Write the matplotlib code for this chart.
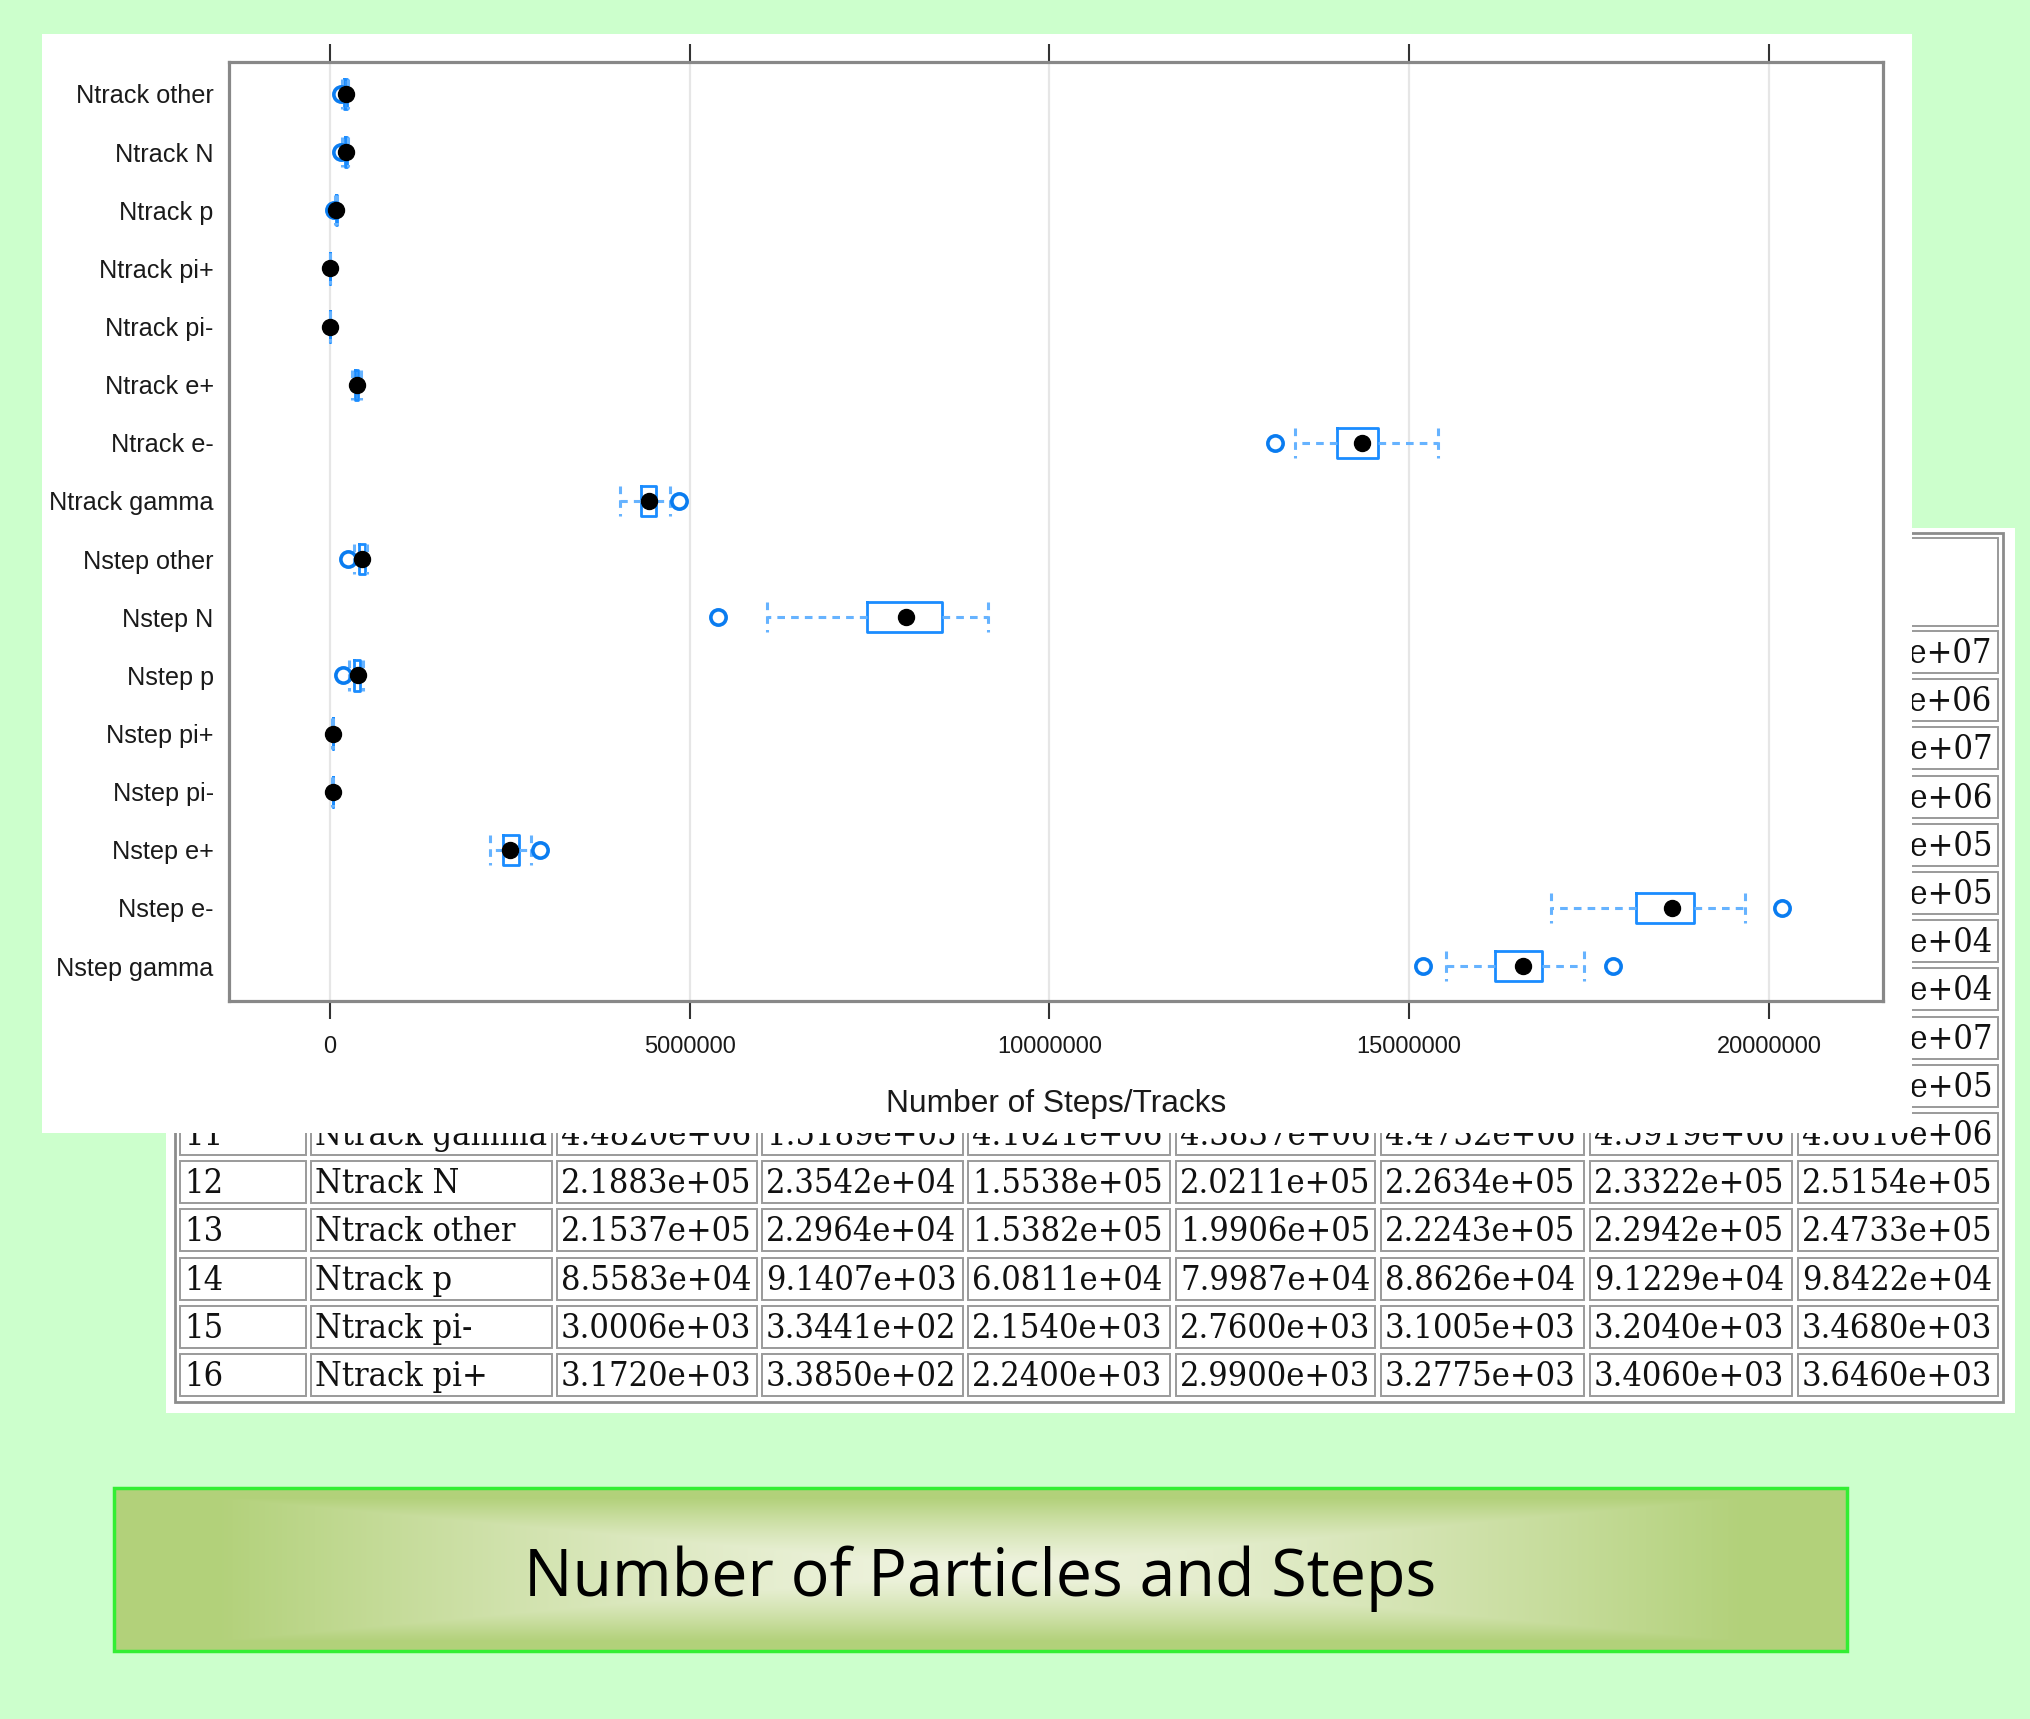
import numpy as np
import matplotlib
matplotlib.use('Agg')
from matplotlib import pyplot as plt
from matplotlib import font_manager
from matplotlib.patches import Rectangle

plt.rcParams['font.family'] = ['Liberation Sans', 'DejaVu Sans']

# box plot data, top row first
box_labels = ['Ntrack other', 'Ntrack N', 'Ntrack p', 'Ntrack pi+', 'Ntrack pi-',
              'Ntrack e+', 'Ntrack e-', 'Ntrack gamma', 'Nstep other', 'Nstep N',
              'Nstep p', 'Nstep pi+', 'Nstep pi-', 'Nstep e+', 'Nstep e-', 'Nstep gamma']
box_whislo = [1.66e5, 1.68e5, 6.5e4, 2240, 2154, 3.0e5, 13.41e6, 4.03e6,
              3.3e5, 6.07e6, 2.6e5, 2.9e4, 2.76e4, 2.22e6, 16.97e6, 15.51e6]
box_q1 = [1.9906e5, 2.0211e5, 7.9987e4, 2990, 2760, 3.5e5, 14.0e6, 4.32e6,
          4.0e5, 7.46e6, 3.3e5, 3.7e4, 3.5e4, 2.41e6, 18.15e6, 16.19e6]
box_med = [2.2243e5, 2.2634e5, 8.8626e4, 3277.5, 3100.5, 3.7e5, 14.34e6, 4.43e6,
           4.5e5, 8.01e6, 3.9e5, 4.0e4, 3.84e4, 2.50e6, 18.65e6, 16.58e6]
box_q3 = [2.2942e5, 2.3322e5, 9.1229e4, 3406, 3204, 3.9e5, 14.57e6, 4.53e6,
          4.8e5, 8.51e6, 4.2e5, 4.3e4, 4.1e4, 2.62e6, 18.96e6, 16.84e6]
box_whishi = [2.4733e5, 2.5154e5, 9.8422e4, 3646, 3468, 4.31e5, 15.40e6, 4.73e6,
              5.2e5, 9.15e6, 4.6e5, 4.8e4, 4.6e4, 2.79e6, 19.67e6, 17.43e6]
box_fliers = [[1.5382e5], [1.5538e5], [6.0811e4], [], [], [], [13.13e6], [4.85e6],
              [2.5e5], [5.39e6], [1.8e5], [], [], [2.92e6], [20.18e6], [15.19e6, 17.83e6]]

tick_values = [0, 5000000, 10000000, 15000000, 20000000]
tick_labels = ['0', '5000000', '10000000', '15000000', '20000000']

# summary table behind the plot
tbl_index = [str(i) for i in range(1, 17)]
tbl_names = ['Nstep e-', 'Nstep e+', 'Nstep gamma', 'Nstep N', 'Nstep other', 'Nstep p',
             'Nstep pi-', 'Nstep pi+', 'Ntrack e-', 'Ntrack e+', 'Ntrack gamma', 'Ntrack N',
             'Ntrack other', 'Ntrack p', 'Ntrack pi-', 'Ntrack pi+']
tbl_values = [
    ['1.8589e+07', '7.1043e+05', '1.6970e+07', '1.8150e+07', '1.8650e+07', '1.8960e+07', '2.0183e+07'],
    ['2.5132e+06', '1.3517e+05', '2.2211e+06', '2.4105e+06', '2.5013e+06', '2.6204e+06', '2.9216e+06'],
    ['1.6551e+07', '5.5317e+05', '1.5190e+07', '1.6190e+07', '1.6580e+07', '1.6840e+07', '1.7832e+07'],
    ['7.9212e+06', '8.9310e+05', '5.3912e+06', '7.4604e+06', '8.0111e+06', '8.5107e+06', '9.1502e+06'],
    ['4.3970e+05', '6.1203e+04', '2.5012e+05', '4.0071e+05', '4.5020e+05', '4.8013e+05', '5.2104e+05'],
    ['3.7461e+05', '5.7420e+04', '1.8044e+05', '3.3102e+05', '3.9015e+05', '4.2030e+05', '4.6132e+05'],
    ['3.8121e+04', '4.2153e+03', '2.7611e+04', '3.5320e+04', '3.8402e+04', '4.1107e+04', '4.6021e+04'],
    ['4.0210e+04', '4.3917e+03', '2.9013e+04', '3.7031e+04', '4.0115e+04', '4.3024e+04', '4.8306e+04'],
    ['1.4283e+07', '4.6201e+05', '1.3131e+07', '1.4004e+07', '1.4340e+07', '1.4570e+07', '1.5402e+07'],
    ['3.6921e+05', '3.2105e+04', '2.9842e+05', '3.5017e+05', '3.7006e+05', '3.9033e+05', '4.3110e+05'],
    ['4.4820e+06', '1.5189e+05', '4.1621e+06', '4.3837e+06', '4.4732e+06', '4.5919e+06', '4.8610e+06'],
    ['2.1883e+05', '2.3542e+04', '1.5538e+05', '2.0211e+05', '2.2634e+05', '2.3322e+05', '2.5154e+05'],
    ['2.1537e+05', '2.2964e+04', '1.5382e+05', '1.9906e+05', '2.2243e+05', '2.2942e+05', '2.4733e+05'],
    ['8.5583e+04', '9.1407e+03', '6.0811e+04', '7.9987e+04', '8.8626e+04', '9.1229e+04', '9.8422e+04'],
    ['3.0006e+03', '3.3441e+02', '2.1540e+03', '2.7600e+03', '3.1005e+03', '3.2040e+03', '3.4680e+03'],
    ['3.1720e+03', '3.3850e+02', '2.2400e+03', '2.9900e+03', '3.2775e+03', '3.4060e+03', '3.6460e+03'],
]

title = 'Number of Particles and Steps'

# table font: condensed DejaVu Serif if the system has it
has_cond = any(f.name == 'DejaVu Serif' and f.stretch == 'condensed'
               for f in font_manager.fontManager.ttflist)
tbl_font = dict(family='DejaVu Serif', fontstretch='condensed', fontsize=24.6) if has_cond \
    else dict(family='DejaVu Serif', fontsize=21.5)

W, H = 2031, 1719
fig = plt.figure(figsize=(W / 100, H / 100), dpi=100)
fig.patch.set_facecolor('#ccffcc')


def px_axes(l, t, r, b, z):
    return fig.add_axes([l / W, 1 - b / H, (r - l) / W, (b - t) / H], zorder=z)


# slide layer in pixel coordinates
slide = px_axes(0, 0, W, H, 0)
slide.set_axis_off()

# table panel
slide.add_patch(Rectangle((166, 528), 2015 - 166, 1413 - 528, fc='white', ec='none', zorder=1))
slide.add_patch(Rectangle((175, 533), 2003 - 175, 1402 - 533, fc='none', ec='#8c8c8c', lw=2, zorder=2))
col_edges = [(180, 306), (311, 552), (557, 757), (762, 963), (968, 1170),
             (1176, 1375), (1381, 1584), (1590, 1792), (1798, 1998)]
for l, r in col_edges:
    slide.add_patch(Rectangle((l, 538), r - l, 88, fc='white', ec='#9a9a9a', lw=1.4, zorder=2))
for i in range(len(tbl_names)):
    top = 631 + i * 48.2
    cells = [tbl_index[i], tbl_names[i]] + tbl_values[i]
    for (l, r), s in zip(col_edges, cells):
        slide.add_patch(Rectangle((l, top), r - l, 42, fc='white', ec='#9a9a9a', lw=1.4, zorder=2))
        slide.text(l + 4, top + 32, s, color='#111111', va='baseline', ha='left', zorder=3,
                   **tbl_font)

# white panel that holds the plot, on top of the table
slide.add_patch(Rectangle((42, 34), 1912 - 42, 1133 - 34, fc='white', ec='none', zorder=10))
slide.text(1056, 1104, 'Number of Steps/Tracks', fontsize=22.8, ha='center', va='center',
           color='#1a1a1a', zorder=12)

# title banner with a rectangular gradient
u = np.abs(np.linspace(-1, 1, 700))[None, :]
v = np.abs(np.linspace(-1, 1, 180))[:, None]
t = np.clip(np.maximum(u, v) / 0.88, 0, 1) ** 1.4
edge = np.array([0.70, 0.82, 0.48])
center = np.array([0.94, 0.955, 0.88])
img = center + (edge - center) * t[..., None]
slide.imshow(img, extent=(114, 1847, 1651, 1488), aspect='auto', interpolation='bilinear', zorder=10)
slide.add_patch(Rectangle((114, 1488), 1847 - 114, 1651 - 1488, fc='none', ec='#33ee33', lw=2.5, zorder=11))
slide.text(980, 1579, title, family='Open Sans', fontsize=46.5, ha='center', va='center',
           color='black', zorder=12)
slide.set_xlim(0, W)
slide.set_ylim(H, 0)

# box plot
ax = px_axes(229, 62, 1883, 1001, 2)
ax.set_facecolor('white')
pos = list(range(len(box_labels)))
stats = [dict(label=n, whislo=a, q1=b, med=c, q3=d, whishi=e, fliers=f)
         for n, a, b, c, d, e, f in zip(box_labels, box_whislo, box_q1, box_med,
                                        box_q3, box_whishi, box_fliers)]
dash = (0, (2.5, 2))
ax.bxp(stats, positions=pos, widths=0.52, capwidths=0.52, orientation='horizontal',
       boxprops=dict(color='#1a8cff', lw=2),
       whiskerprops=dict(color='#66b3ff', lw=2.2, ls=dash),
       capprops=dict(color='#66b3ff', lw=2.2, ls=dash),
       medianprops=dict(ls='none'),
       flierprops=dict(marker='o', mfc='none', mec='#0a7cf0', ms=11, mew=2.6))
ax.plot(box_med, pos, 'o', color='black', ms=11.5, ls='none', zorder=4)

ax.set_xticks(tick_values, tick_labels)
ax.set_xlim(-1.404e6, 21.585e6)
ax.set_ylim(15.6, -0.55)
ax.tick_params(axis='x', top=True, labeltop=False, direction='out', length=13, width=1.5,
               color='#333333', labelsize=17, labelcolor='#1a1a1a', pad=12)
ax.tick_params(axis='y', length=0, labelsize=18.2, labelcolor='#1a1a1a', pad=11)
for s in ax.spines.values():
    s.set_color('#888888')
    s.set_linewidth(2.3)
ax.grid(axis='x', color='#e6e6e6', lw=1.6)
ax.set_axisbelow(True)

fig.savefig('out.png', dpi=100, facecolor=fig.get_facecolor())
